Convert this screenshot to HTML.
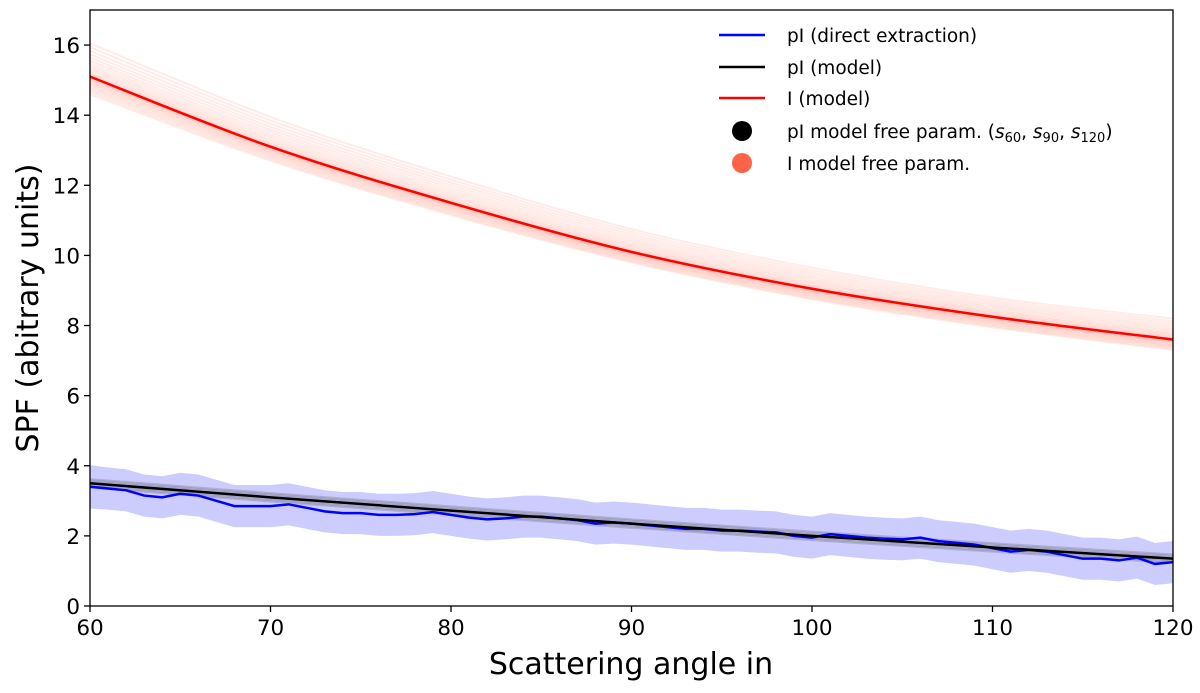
<!DOCTYPE html>
<html><head><meta charset="utf-8"><style>
body{margin:0;background:#fff;font-family:"DejaVu Sans","Liberation Sans",sans-serif}
svg text{font-family:"DejaVu Sans","Liberation Sans",sans-serif}
</style></head><body>
<svg id="chart" width="1200" height="689" xmlns="http://www.w3.org/2000/svg">
<g id="plot"></g>
<g id="axes"></g>
<g id="legend">
 <line x1="719" y1="35" x2="765" y2="35" stroke="#0000ff" stroke-width="2.5"/>
 <text x="787" y="42" font-size="18.5">pI (direct extraction)</text>
 <line x1="719" y1="67" x2="765" y2="67" stroke="#000" stroke-width="2.5"/>
 <text x="787" y="74" font-size="18.5">pI (model)</text>
 <line x1="719" y1="98" x2="765" y2="98" stroke="#ff0000" stroke-width="2.5"/>
 <text x="787" y="105" font-size="18.5">I (model)</text>
 <circle cx="742" cy="131" r="10" fill="#000"/>
 <text x="787" y="138" font-size="18.5">pI model free param. (<tspan font-style="italic">s</tspan><tspan font-size="13" dy="4">60</tspan><tspan dy="-4">, </tspan><tspan font-style="italic">s</tspan><tspan font-size="13" dy="4">90</tspan><tspan dy="-4">, </tspan><tspan font-style="italic">s</tspan><tspan font-size="13" dy="4">120</tspan><tspan dy="-4">)</tspan></text>
 <circle cx="742" cy="163" r="10" fill="#ff6347"/>
 <text x="787" y="170" font-size="18.5">I model free param.</text>
</g>
</svg>
<script>
const blueAngles=[60,61,62,63,64,65,66,67,68,69,70,71,72,73,74,75,76,77,78,79,80,81,82,83,84,85,86,87,88,89,90,91,92,93,94,95,96,97,98,99,100,101,102,103,104,105,106,107,108,109,110,111,112,113,114,115,116,117,118,119,120];
const blueValues=[3.4,3.35,3.3,3.15,3.1,3.2,3.15,3.0,2.85,2.85,2.85,2.9,2.8,2.7,2.65,2.65,2.6,2.6,2.62,2.68,2.6,2.52,2.47,2.5,2.55,2.55,2.5,2.45,2.35,2.38,2.35,2.3,2.25,2.2,2.2,2.15,2.15,2.12,2.1,2.0,1.95,2.05,2.0,1.95,1.92,1.9,1.95,1.85,1.8,1.75,1.65,1.55,1.6,1.55,1.45,1.35,1.35,1.3,1.38,1.2,1.25];
const blueErr=[0.62,0.6,0.6,0.6,0.6,0.6,0.6,0.6,0.6,0.6,0.6,0.6,0.6,0.6,0.6,0.6,0.6,0.6,0.6,0.6,0.6,0.6,0.6,0.6,0.6,0.6,0.6,0.6,0.6,0.6,0.6,0.6,0.6,0.6,0.6,0.6,0.6,0.6,0.6,0.6,0.6,0.6,0.6,0.6,0.6,0.6,0.6,0.6,0.6,0.6,0.6,0.6,0.6,0.6,0.6,0.6,0.6,0.6,0.6,0.6,0.6];
const modelAngles=[60,70,80,90,100,110,120];
const piModel=[3.5,3.1,2.72,2.35,2.0,1.67,1.35];
const iModel=[15.1,13.1,11.5,10.1,9.05,8.25,7.6];
const iUpper=[16.05,13.95,12.25,10.75,9.65,8.8,8.2];
const iLower=[14.6,12.7,11.15,9.8,8.75,7.95,7.3];
const xTicks=[60,70,80,90,100,110,120];
const yTicks=[0,2,4,6,8,10,12,14,16];
const X0=90,X1=1173,Y0=606,Y1=10;
const xs=v=>X0+(v-60)/60*(X1-X0);
const ys=v=>Y0-v/17*(Y0-Y1);
const NS="http://www.w3.org/2000/svg";
const plot=document.getElementById('plot'),axes=document.getElementById('axes');
function mk(tag,attrs,parent){const e=document.createElementNS(NS,tag);for(const k in attrs)e.setAttribute(k,attrs[k]);parent.appendChild(e);return e;}
function smooth(xv,yv){const p=xv.map((x,i)=>[xs(x),ys(yv[i])]);let d=`M${p[0][0]},${p[0][1]}`;
 for(let i=0;i<p.length-1;i++){const a=p[Math.max(0,i-1)],b=p[i],c=p[i+1],e=p[Math.min(p.length-1,i+2)];
 d+=` C${b[0]+(c[0]-a[0])/6},${b[1]+(c[1]-a[1])/6} ${c[0]-(e[0]-b[0])/6},${c[1]-(e[1]-b[1])/6} ${c[0]},${c[1]}`;}return d;}
// red family: spread around the model, denser near centre
for(let k=0;k<=30;k++){const s=(k/30)*2-1;const t=Math.sign(s)*Math.pow(Math.abs(s),1.8);
 const vals=iModel.map((m,i)=>t>=0?m+(iUpper[i]-m)*t:m+(m-iLower[i])*t);
 const e=mk('path',{d:smooth(modelAngles,vals),fill:'none',stroke:'#ff6347','stroke-width':2,'stroke-opacity':0.13},plot);
 
 }
// blue band
let band=blueAngles.map((a,i)=>`${xs(a)},${ys(blueValues[i]+blueErr[i])}`).concat(blueAngles.map((a,i)=>`${xs(a)},${ys(blueValues[i]-blueErr[i])}`).reverse());
const bd=mk('polygon',{points:band.join(' '),fill:'#0000ff','fill-opacity':0.2},plot);


// grey band
for(let k=0;k<=6;k++){const off=(k-3)*0.04;const g=mk('path',{d:smooth(modelAngles,piModel.map(v=>v+off)),fill:'none',stroke:'#555','stroke-width':2,'stroke-opacity':0.25},plot);
 
 }
const bl=mk('polyline',{points:blueAngles.map((a,i)=>`${xs(a)},${ys(blueValues[i])}`).join(' '),fill:'none',stroke:'#0000ff','stroke-width':2.5},plot);


const kl=mk('path',{d:smooth(modelAngles,piModel),fill:'none',stroke:'#000','stroke-width':2.5},plot);


const rl=mk('path',{d:smooth(modelAngles,iModel),fill:'none',stroke:'#ff0000','stroke-width':2.5},plot);


// axes
const fr=mk('rect',{x:X0,y:Y1,width:X1-X0,height:Y0-Y1,fill:'none',stroke:'#000','stroke-width':1.3},axes);


xTicks.forEach(v=>{mk('line',{x1:xs(v),y1:Y0,x2:xs(v),y2:Y0+6,stroke:'#000','stroke-width':1.3},axes);
 const t=mk('text',{x:xs(v),y:Y0+29,'font-size':21.5,'text-anchor':'middle'},axes);t.textContent=v;
 
 });
yTicks.forEach(v=>{mk('line',{x1:X0-6,y1:ys(v),x2:X0,y2:ys(v),stroke:'#000','stroke-width':1.3},axes);
 const t=mk('text',{x:X0-10,y:ys(v)+8,'font-size':21.5,'text-anchor':'end'},axes);t.textContent=v;
 
 });
const xt=mk('text',{x:631,y:674,'font-size':30,'text-anchor':'middle'},axes);xt.textContent='Scattering angle in';


const yt=mk('text',{x:0,y:0,'font-size':30,'text-anchor':'middle',transform:`translate(38,${(Y0+Y1)/2}) rotate(-90)`},axes);yt.textContent='SPF (abitrary units)';


</script>
</body></html>
